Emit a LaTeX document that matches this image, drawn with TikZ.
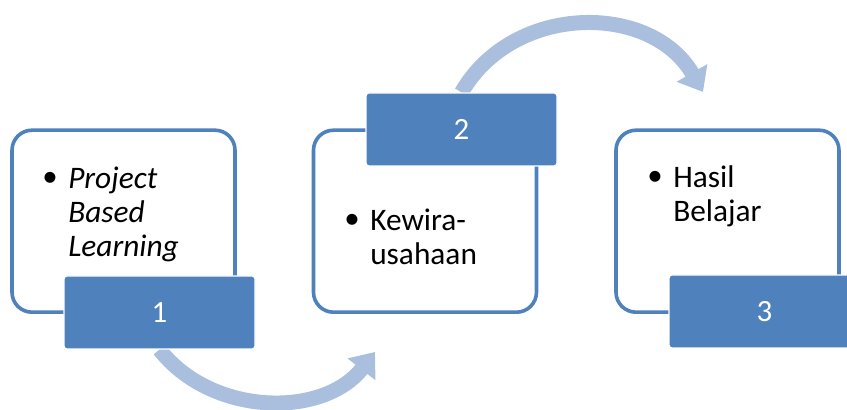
\documentclass[tikz,border=0pt]{standalone}
\usepackage{fontspec}
\setmainfont{Carlito}
\usepackage{xcolor}
\usepackage{tikz}
\usetikzlibrary{positioning}
\usetikzlibrary{arrows.meta}
\usetikzlibrary{backgrounds}

\begin{document}
\begin{tikzpicture}
    [%%%%%%%%%%%%%%%%%%%%%%%%%%%%%%
        card/.style={rectangle,draw=tabblue,line width=0.09cm,rounded corners=0.5cm,fill=white,minimum width=5.575cm,minimum height=4.55cm},
        tab/.style={rectangle,draw=white,line width=0.03cm,rounded corners=0.075cm,fill=tabblue,text=white,minimum width=4.775cm,minimum height=1.825cm,font=\fontsize{22}{24}\selectfont},
        item/.style={anchor=north west,inner sep=0pt,align=left,font=\fontsize{22.3}{24.2}\selectfont},
        dot/.style={anchor=base,inner sep=0pt,font=\fontsize{22}{24.2}\selectfont},
        swoop/.style={draw=arrowblue,line width=0.375cm,-{Triangle[width=0.85cm,length=0.55cm,fill=arrowblue]}}
    ]%%%%%%%%%%%%%%%%%%%%%%%%%%%%%%
\definecolor{tabblue}{RGB}{79,129,189}
\definecolor{arrowblue}{RGB}{170,191,222}

\useasboundingbox (0,0) rectangle (21.175,10.25);

\node[card] (card1) at (3.0875,4.72){};
\node[card] (card2) at (10.625,4.72){};
\node[card] (card3) at (18.1875,4.72){};

\node[tab] (tab1) at (3.9875,2.4375){1};
\node[tab] (tab2) at (11.5375,7.0125){2};
\node[tab] (tab3) at (19.1125,2.4625){3};

\node[dot] (dot1) at (1.25,5.575){\textbullet};
\node[item] (txt1) at (1.7,6.08){\textit{Project}\\\textit{Based}\\\textit{Learning}};

\node[dot] (dot2) at (8.8,4.525){\textbullet};
\node[item] (txt2) at (9.25,5.03){Kewira-\\usahaan};

\node[dot] (dot3) at (16.375,5.6){\textbullet};
\node[item] (txt3) at (16.825,6.105){Hasil\\Belajar};

\coordinate (tip1) at (9.375,1.45);
\coordinate (tip2) at (17.575,7.95);

\begin{scope}[on background layer]
\draw[swoop] (tab1.south) to[out=-52,in=232] (tip1);
\draw[swoop] (tab2.north) to[out=60,in=120,looseness=1.1] (tip2);
\end{scope}

\end{tikzpicture}
\end{document}
